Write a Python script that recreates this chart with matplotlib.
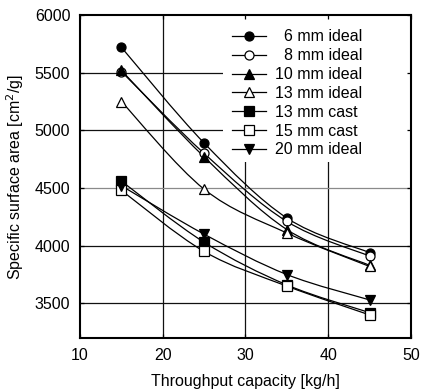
import numpy as np
import matplotlib
matplotlib.use("Agg")
import matplotlib.pyplot as plt
from matplotlib.path import Path
from matplotlib.patches import PathPatch, Rectangle
from matplotlib.lines import Line2D

plt.rcParams['font.family'] = ['Liberation Sans', 'DejaVu Sans']

throughput = [15, 25, 35, 45]
series_labels = ["6 mm ideal", "8 mm ideal", "10 mm ideal", "13 mm ideal",
                 "13 mm cast", "15 mm cast", "20 mm ideal"]
ideal_6mm = [5720, 4890, 4240, 3940]
ideal_8mm = [5510, 4800, 4210, 3910]
ideal_10mm = [5520, 4770, 4140, 3830]
ideal_13mm = [5250, 4490, 4110, 3820]
cast_13mm = [4560, 4030, 3660, 3420]
cast_15mm = [4480, 3950, 3650, 3400]
ideal_20mm = [4520, 4100, 3750, 3530]
x_ticks = [10, 20, 30, 40, 50]
y_ticks = [3500, 4000, 4500, 5000, 5500, 6000]

series = [ideal_6mm, ideal_8mm, ideal_10mm, ideal_13mm, cast_13mm, cast_15mm, ideal_20mm]
markers = ['o', 'o', '^', '^', 's', 's', 'v']
fills = ['k', 'w', 'k', 'w', 'k', 'w', 'k']
# pad the single-digit labels so the legend text lines up on the right
legend_names = ["  " + series_labels[0], "  " + series_labels[1]] + series_labels[2:]

FS = 11.5
LW = 0.9
MS = 6.5


def smooth_path(xs, ys, tension=1 / 6):
    # Catmull-Rom curve through the points, expressed as cubic Bezier segments
    pts = np.column_stack([np.asarray(xs, float), np.asarray(ys, float)])
    n = len(pts)
    verts = [pts[0]]
    codes = [Path.MOVETO]
    for i in range(n - 1):
        p0 = pts[i - 1] if i > 0 else pts[i]
        p1 = pts[i]
        p2 = pts[i + 1]
        p3 = pts[i + 2] if i + 2 < n else pts[i + 1]
        verts += [p1 + (p2 - p0) * tension, p2 - (p3 - p1) * tension, p2]
        codes += [Path.CURVE4] * 3
    return Path(verts, codes)


fig = plt.figure(figsize=(4.21, 3.91), dpi=100)
ax = fig.add_axes([80 / 421, 1 - 338 / 391, 331 / 421, 323 / 391])
ax.set_axisbelow(False)

ax.set_xlim(10, 50)
ax.set_ylim(3200, 6000)

# grid lines at the inner ticks
for xv in x_ticks[1:-1]:
    ax.axvline(xv, color='#111111', lw=LW, zorder=1)
for yv in y_ticks[:-1]:
    ax.axhline(yv, color='#8a8a8a' if yv == 4500 else '#111111', lw=LW, zorder=1)

# white panel behind the legend hides the grid there
ax.add_patch(Rectangle((0.432, 0.545), 0.568, 0.455, transform=ax.transAxes,
                       facecolor='white', edgecolor='none', zorder=1.5))

for vals, m, fc in zip(series, markers, fills):
    ax.add_patch(PathPatch(smooth_path(throughput, vals), fill=False,
                           edgecolor='k', lw=LW, zorder=3))
    ax.plot(throughput, vals, linestyle='none', marker=m, markersize=MS,
            markerfacecolor=fc, markeredgecolor='k', markeredgewidth=LW, zorder=4)

ax.set_xticks(x_ticks)
ax.set_yticks(y_ticks)
ax.tick_params(direction='in', length=3, width=LW, labelsize=FS, top=True, right=True,
               pad=7)
for s in ax.spines.values():
    s.set_linewidth(1.5)

ax.set_xlabel("Throughput capacity [kg/h]", fontsize=FS, labelpad=8)
ax.set_ylabel("Specific surface area [cm$^2$/g]", fontsize=FS, labelpad=6)

handles = [Line2D([], [], color='k', lw=LW, marker=m, markersize=MS,
                  markerfacecolor=fc, markeredgecolor='k', markeredgewidth=LW)
           for m, fc in zip(markers, fills)]
leg = ax.legend(handles, legend_names, loc='upper left', bbox_to_anchor=(0.435, 0.98),
                borderaxespad=0, frameon=False, fontsize=FS, handlelength=2.1,
                handletextpad=0.6, labelspacing=0.24, borderpad=0.5)
leg.set_zorder(5)

fig.savefig("out.png", dpi=100)
